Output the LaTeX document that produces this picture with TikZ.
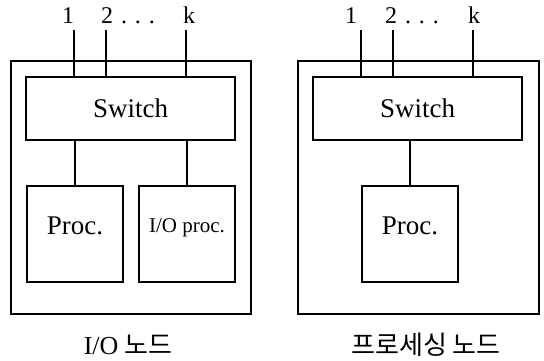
\documentclass[tikz,border=0pt]{standalone}
\usepackage{fontspec}
\setmainfont{Liberation Serif}
\newfontfamily\krfont{Noto Sans CJK KR}
\begin{document}
\begin{tikzpicture}[x=1pt,y=-1pt,
  box/.style={draw,line width=1.5pt,minimum width=#1,inner sep=0pt},
  wire/.style={line width=1.5pt},
  portlbl/.style={anchor=base,inner sep=0pt,font=\fontsize{24}{28}\selectfont},
  boxtxt/.style={font=\fontsize{27}{30}\selectfont},
  captxt/.style={font=\fontsize{26}{30}\selectfont}]
\useasboundingbox (0,0) rectangle (544,361);

% ---- I/O node ----
\node[box=240pt,minimum height=253pt] (outL) at (131,187.5) {};
\node[box=209pt,minimum height=63pt,boxtxt] (swL) at (130.5,108.5) {Switch};
\node[box=96pt,minimum height=96pt] (procL) at (75,234) {};
\node[boxtxt] (procLt) at (75,226) {Proc.};
\node[box=96pt,minimum height=96pt] (iop) at (187,234) {};
\node[font=\fontsize{21}{24}\selectfont] (iopt) at (187,228) {I/O proc.};

\node[portlbl] (l1) at (68,24) {1};
\node[portlbl] (l2) at (107,24) {2};
\node[portlbl] (ld) at (138,24) {.\hspace{8pt}.\hspace{8pt}.};
\node[portlbl] (lk) at (189,24) {k};
\coordinate (a1) at (74,30);
\coordinate (a2) at (106,30);
\coordinate (ak) at (186,30);
\draw[wire] (a1) -- (a1 |- swL.north);
\draw[wire] (a2) -- (a2 |- swL.north);
\draw[wire] (ak) -- (ak |- swL.north);
\draw[wire] (procL.north) -- (procL.north |- swL.south);
\draw[wire] (iop.north) -- (iop.north |- swL.south);

\node[captxt] (capL) at (128,345) {I/O\hspace{6pt}{\krfont 노드}};

% ---- processing node ----
\node[box=241pt,minimum height=253pt] (outR) at (418.5,187.5) {};
\node[box=209pt,minimum height=63pt,boxtxt] (swR) at (417.5,108.5) {Switch};
\node[box=96pt,minimum height=96pt] (procR) at (410,234) {};
\node[boxtxt] (procRt) at (410,226) {Proc.};

\node[portlbl] (r1) at (351,24) {1};
\node[portlbl] (r2) at (391,24) {2};
\node[portlbl] (rd) at (422,24) {.\hspace{8pt}.\hspace{8pt}.};
\node[portlbl] (rk) at (474,24) {k};
\coordinate (b1) at (361,30);
\coordinate (b2) at (393,30);
\coordinate (bk) at (473,30);
\draw[wire] (b1) -- (b1 |- swR.north);
\draw[wire] (b2) -- (b2 |- swR.north);
\draw[wire] (bk) -- (bk |- swR.north);
\draw[wire] (procR.north) -- (procR.north |- swR.south);

\node[captxt] (capR) at (426,345) {\krfont 프로세싱\hspace{6pt}노드};
\end{tikzpicture}
\end{document}
